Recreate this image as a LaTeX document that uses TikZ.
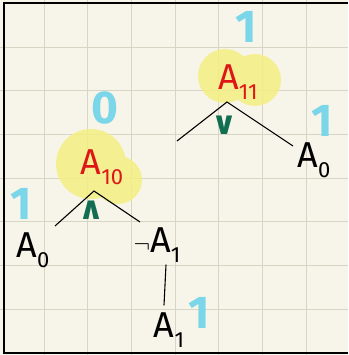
\documentclass[tikz,border=0pt]{standalone}
\usepackage{fontspec}
\setmainfont{Fira Sans}
\newfontfamily\opfont{DejaVu Sans}
\definecolor{paper}{RGB}{247,245,233}
\definecolor{gridgray}{RGB}{214,214,196}
\definecolor{hlyellow}{RGB}{244,238,130}
\definecolor{gatered}{RGB}{222,22,22}
\definecolor{valcyan}{RGB}{122,214,232}
\definecolor{opgreen}{RGB}{18,110,82}
\newcommand\idx[1]{\raisebox{-0.28em}{\fontsize{22}{22}\selectfont#1}}
\begin{document}
\begin{tikzpicture}[x=1pt,y=-1pt,
    lbl/.style={inner sep=0pt,font=\fontsize{36}{36}\selectfont},
    gatelbl/.style={lbl,text=gatered},
    val/.style={inner sep=0pt,text=valcyan,font=\fontsize{46}{46}\selectfont\bfseries},
    op/.style={inner sep=0pt,text=opgreen,font=\opfont\bfseries\fontsize{32}{32}\selectfont},
    branch/.style={line width=1.1pt},
    hl/.style={fill=hlyellow,fill opacity=0.85}]
    \useasboundingbox (0,0) rectangle (348,355);
    %% paper and grid
    \fill[paper] (0,0) rectangle (348,355);
    \foreach \i in {0,...,6} {
        \draw[gridgray,line width=0.9pt] (44+\i*43.7,0) -- (44+\i*43.7,355);
        \draw[gridgray,line width=0.9pt] (0,47+\i*43.7) -- (348,47+\i*43.7);
    }
    \draw[line width=2pt] (348,3) -- (4,3) -- (4,353) -- (348,353);
    %% highlights
    \fill[hl] (225,76) circle (27) (255,80) circle (26);
    \fill[hl] (91,164) circle (35) (118,180) circle (24);
    %% upper gate
    \node[val] (v11) at (246,27) {1};
    \node[gatelbl] (A11) at (238,82) {A\idx{11}};
    \node[op] (or) at (224,125) {∨};
    \coordinate (A11 apex) at (227,102);
    \coordinate (A11 left) at (177,141);
    \coordinate (A11 right) at (293,146);
    \node[lbl] (A0r) at (314,160) {A\idx{0}};
    \node[val] (vA0r) at (322,121) {1};
    \draw[branch] (A11 left) -- (A11 apex) -- (A11 right);
    %% lower gate
    \node[val] (v10) at (105,108) {0};
    \node[gatelbl] (A10) at (102,167) {A\idx{10}};
    \node[op] (and) at (91,210) {∧};
    \coordinate (A10 apex) at (94,191);
    \coordinate (A10 left) at (55,226);
    \coordinate (A10 right) at (140,222);
    \node[lbl] (A0l) at (33,250) {A\idx{0}};
    \node[val] (vA0l) at (21,204) {1};
    \node[lbl] (nA1) at (157,245) {{\fontsize{24}{24}\selectfont$\neg$}A\idx{1}};
    \draw[branch] (A10 left) -- (A10 apex) -- (A10 right);
    %% negation
    \node[lbl] (A1) at (169,330) {A\idx{1}};
    \node[val] (vA1) at (199,313) {1};
    \draw[branch] ([xshift=9pt,yshift=-2pt]nA1.south) -- ([xshift=-5pt,yshift=7pt]A1.north);
\end{tikzpicture}
\end{document}
